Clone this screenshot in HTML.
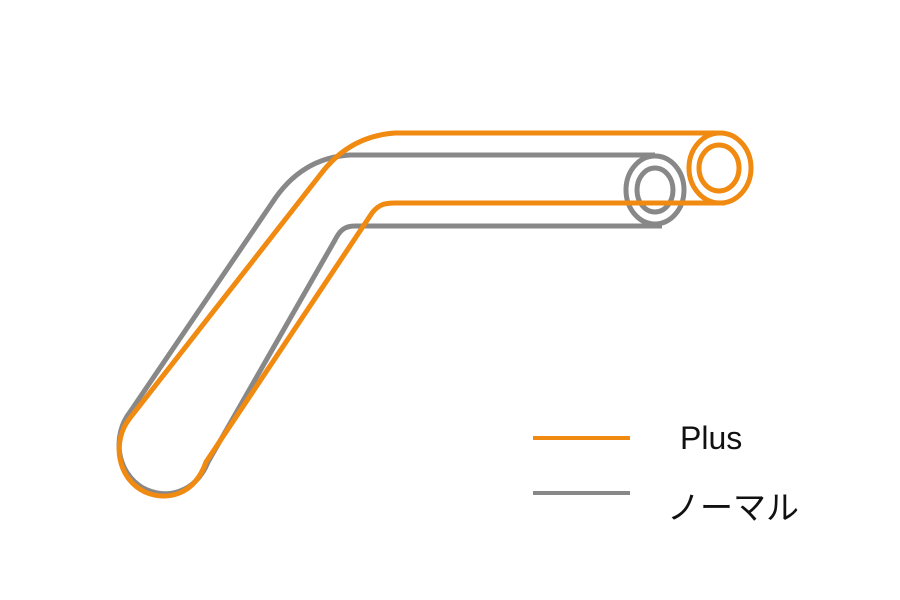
<!DOCTYPE html>
<html><head><style>
body{margin:0;background:#fff;width:900px;height:600px;overflow:hidden;position:relative;font-family:"Liberation Sans","Noto Sans CJK JP",sans-serif}
.t{position:absolute;color:#111}
</style></head><body>
<svg width="900" height="600" style="position:absolute;left:0;top:0" fill="none" stroke-width="5" stroke-linejoin="round">
<g stroke="#888">
<path d="M655,155 L350,155 C315,157 290,175 272,203 L130,412 C112,435 116,472 143,488 C165,500 195,494 208,462 L335,240 C340,230 345,226 355,226 L662,226"/>
<ellipse cx="655" cy="190" rx="29" ry="34"/>
<ellipse cx="655" cy="190" rx="18" ry="22"/>
</g>
<g stroke="#f08a10">
<path d="M720,133 L395,133 C365,135 340,148 320,175 L130,418 C112,440 116,478 145,492 C168,502 195,494 206,462 L372,213 C378,205 384,203 395,203 L725,203"/>
<ellipse cx="720" cy="168" rx="31" ry="35"/>
<ellipse cx="719" cy="168" rx="20" ry="23"/>
</g>
<line x1="533" y1="438" x2="630" y2="438" stroke="#f08a10" stroke-width="4"/>
<line x1="533" y1="493" x2="630" y2="493" stroke="#888" stroke-width="4"/>
</svg>
<div class="t" style="left:680px;top:420px;font-size:32px">Plus</div>
<div class="t" style="left:667px;top:481px;font-size:33px">ノーマル</div>
</body></html>
